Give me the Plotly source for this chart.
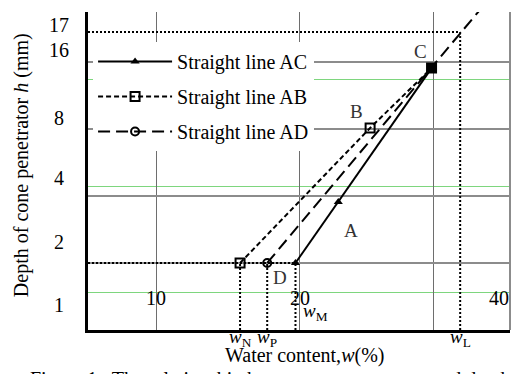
import math
import plotly.graph_objects as go

# ---------------- data ----------------
# Straight line AC (triangles): w_M -> A -> C
w_AC = [19.6, 24.1, 37.8]
h_AC = [2.0, 3.76, 15.0]
# Straight line AB (squares): w_N -> B -> C
w_AB = [15.0, 28.1, 37.8]
h_AB = [2.0, 8.08, 15.0]
# Straight line AD (circles): D (w_P) -> C -> top edge
w_AD = [17.1, 37.8, 48.5]
h_AD = [2.0, 15.0, 28.5]

# characteristic water contents and depths
w_N, w_P, w_M, w_L = 15.0, 17.1, 19.6, 43.4
h_P = 2.0
h_L = 21.8          # the dotted line labelled "17"

# grid lines
x_grid = [10, 20, 38.1]
y_grid = [2, 4, 8, 16]
y_green = [1.47, 4.39, 13.3]

# tick labels (as placed in the figure)
y_tick_text = ["1", "2", "4", "8", "16", "17"]
y_tick_pos = [1.295, 2.49, 4.82, 8.97, 18.1, 23.5]
x_tick_text = ["10", "20", "40"]
x_tick_pos = [10, 20, 52.4]
x_tick_h = 1.39

X_RANGE = [7.2, 55.2]
Y_RANGE = [1.0, 26.8]

FONT = "Liberation Serif, Times New Roman, serif"
lg = math.log10

fig = go.Figure()

# dotted guide lines
xs, ys = [], []
for seg in [([X_RANGE[0], w_L], [h_L, h_L]),
            ([w_L, w_L], [Y_RANGE[0], h_L]),
            ([X_RANGE[0], w_M], [h_P, h_P]),
            ([w_N, w_N], [Y_RANGE[0], h_P]),
            ([w_P, w_P], [Y_RANGE[0], h_P]),
            ([w_M, w_M], [Y_RANGE[0], h_P])]:
    xs += seg[0] + [None]
    ys += seg[1] + [None]
fig.add_trace(go.Scatter(x=xs, y=ys, mode="lines", showlegend=False,
                         line=dict(color="black", width=2, dash="2px,2px"),
                         hoverinfo="skip"))

fig.add_trace(go.Scatter(
    x=w_AC, y=h_AC, mode="lines+markers", name="Straight line AC",
    legendgroup="ac",
    line=dict(color="black", width=2),
    marker=dict(symbol="triangle-up", size=8, color="black")))
fig.add_trace(go.Scatter(
    x=w_AB, y=h_AB, mode="lines+markers", name="Straight line AB",
    legendgroup="ab",
    line=dict(color="black", width=2, dash="5px,3px"),
    marker=dict(symbol=["square-open", "square-open", "square"], size=9,
                color="black", line=dict(width=2, color="black"))))
fig.add_trace(go.Scatter(
    x=w_AD, y=h_AD, mode="lines+markers", name="Straight line AD",
    legendgroup="ad",
    line=dict(color="black", width=2, dash="12px,6px"),
    marker=dict(symbol="circle-open", size=8,
                color=["black", "rgba(0,0,0,0)", "rgba(0,0,0,0)"],
                line=dict(width=2))))

ann = []
# y tick labels
for t, v in zip(y_tick_text, y_tick_pos):
    ann.append(dict(text=t, xref="paper", yref="y", x=-0.0686, y=lg(v),
                    xanchor="center", yanchor="middle", showarrow=False,
                    font=dict(family=FONT, size=20, color="black")))
# x tick labels (inside the plot)
for t, v in zip(x_tick_text, x_tick_pos):
    ann.append(dict(text=t, xref="x", yref="y", x=lg(v), y=lg(x_tick_h),
                    xanchor="center", yanchor="middle", showarrow=False,
                    font=dict(family=FONT, size=20, color="black")))
# point letters
pt_font = dict(family=FONT, size=19, color="#333")
for t, x, y, dx, dy in [("C", w_AC[2], h_AC[2], -11, 17),
                        ("B", w_AB[1], h_AB[1], -14, 16),
                        ("A", w_AC[1], h_AC[1], 13, -29),
                        ("D", w_AD[0], h_AD[0], 13, -15)]:
    ann.append(dict(text=t, x=lg(x), y=lg(y), xshift=dx, yshift=dy,
                    showarrow=False, font=pt_font))
# w labels
wf = dict(family=FONT, size=19, color="black")
for sub, w in [("N", w_N), ("P", w_P), ("L", w_L)]:
    ann.append(dict(text="<i>w</i><sub>%s</sub>" % sub, x=lg(w), y=0,
                    xanchor="center", yanchor="top", yshift=6,
                    showarrow=False, font=wf))
ann.append(dict(text="<i>w</i><sub>M</sub>", x=lg(w_M), y=0, xanchor="left",
                yanchor="bottom", xshift=6, yshift=4, showarrow=False, font=wf))
# axis titles and caption
ann.append(dict(text="Depth of cone penetrator <i>h</i> (mm)", xref="paper",
                yref="paper", x=-0.156, y=0.519, textangle=-90,
                xanchor="center", yanchor="middle", showarrow=False,
                font=dict(family=FONT, size=20, color="black")))
ann.append(dict(text="Water content,<i>w</i>(%)", xref="paper", yref="paper",
                x=0.513, y=-0.079, xanchor="center", yanchor="middle",
                showarrow=False, font=dict(family=FONT, size=20, color="black")))
ann.append(dict(text="Figure 1   The relationship between water content and depth of cone penetrator",
                xref="paper", yref="paper", x=-0.142, y=-0.112,
                xanchor="left", yanchor="top", showarrow=False,
                font=dict(family=FONT, size=20, color="black")))

fig.update_layout(
    width=511, height=374,
    margin=dict(l=88, r=1, t=12, b=44),
    paper_bgcolor="white", plot_bgcolor="white",
    annotations=ann,
    legend=dict(x=0.012, y=(330 - 42) / 318, xanchor="left", yanchor="top",
                bgcolor="white", itemwidth=74, tracegroupgap=6,
                font=dict(family=FONT, size=20, color="black")),
    xaxis=dict(type="log", range=[lg(X_RANGE[0]), lg(X_RANGE[1])],
               tickmode="array", tickvals=x_grid, showticklabels=False,
               ticks="", showgrid=True, gridcolor="#6e6e6e", gridwidth=1,
               showline=True, linecolor="black", linewidth=3, zeroline=False),
    yaxis=dict(type="log", range=[lg(Y_RANGE[0]), lg(Y_RANGE[1])],
               tickmode="array", tickvals=y_grid, showticklabels=False,
               ticks="", showgrid=True, gridcolor="#8c8c8c", gridwidth=2,
               minor=dict(tickmode="array", tickvals=y_green, showgrid=True,
                          gridcolor="#7ed67e", gridwidth=1, ticks=""),
               showline=True, linecolor="black", linewidth=3, zeroline=False),
    shapes=[dict(type="line", xref="paper", yref="paper", x0=1, x1=1,
                 y0=0, y1=1, line=dict(color="#8c8c8c", width=2))],
)

fig.write_html("out.html", config={"displayModeBar": False},
               post_script="document.body.style.margin='0px';")
